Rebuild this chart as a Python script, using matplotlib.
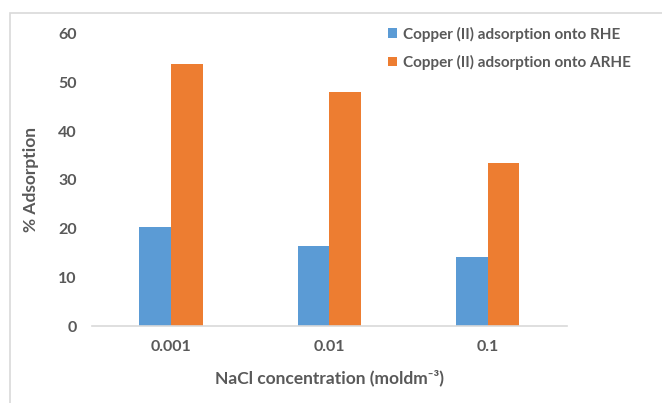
import numpy as np
import matplotlib
matplotlib.use("Agg")
import matplotlib.pyplot as plt
from matplotlib.patches import Rectangle

# Données d'adsorption (%) selon la concentration en NaCl
concentrations = ["0.001", "0.01", "0.1"]
rhe = [20.3, 16.4, 14.2]
arhe = [53.8, 48.0, 33.5]
series_names = ["Copper (II) adsorption onto RHE", "Copper (II) adsorption onto ARHE"]

plt.rcParams['font.family'] = ['Lato', 'DejaVu Sans']
txt = '#595959'

fig = plt.figure(figsize=(6.62, 4.03), dpi=100)
ax = fig.add_axes([0.139, 0.191, 0.717, 0.725])

x = np.arange(len(concentrations))
w = 0.2
ax.bar(x - w/2, rhe, w, color='#5B9BD5', label=series_names[0])
ax.bar(x + w/2, arhe, w, color='#ED7D31', label=series_names[1])

ax.set_xlim(-0.5, 2.5)
ax.set_ylim(0, 60)
ax.set_yticks(range(0, 61, 10))
ax.set_xticks(x)
ax.set_xticklabels(concentrations)
ax.tick_params(length=0, labelsize=11.5, labelcolor=txt)
ax.tick_params(axis='y', pad=11)
ax.tick_params(axis='x', pad=10)
for lab in ax.get_xticklabels() + ax.get_yticklabels():
    lab.set_fontweight('bold')

for s in ['top', 'right', 'left']:
    ax.spines[s].set_visible(False)
ax.spines['bottom'].set_color('#D9D9D9')
ax.spines['bottom'].set_linewidth(1.2)

ax.set_xlabel("NaCl concentration (moldm⁻³)", fontsize=12.5,
              fontweight='bold', color=txt, labelpad=11)
ax.set_ylabel("% Adsorption", fontsize=12.5, fontweight='bold', color=txt, labelpad=14)

leg = ax.legend(loc='upper left', bbox_to_anchor=(0.577, 0.949), bbox_transform=fig.transFigure,
                frameon=False, fontsize=11, handlelength=0.6, handleheight=0.6,
                handletextpad=0.4, labelspacing=0.85, borderaxespad=0)
for t in leg.get_texts():
    t.set_color(txt)
    t.set_fontweight('bold')

# cadre gris clair autour du graphique
fig.patches.append(Rectangle((0.015, -0.1), 1.1, 1.068, transform=fig.transFigure,
                             fill=False, edgecolor='#D9D9D9', linewidth=1.2))

plt.savefig('out.png', dpi=100)
